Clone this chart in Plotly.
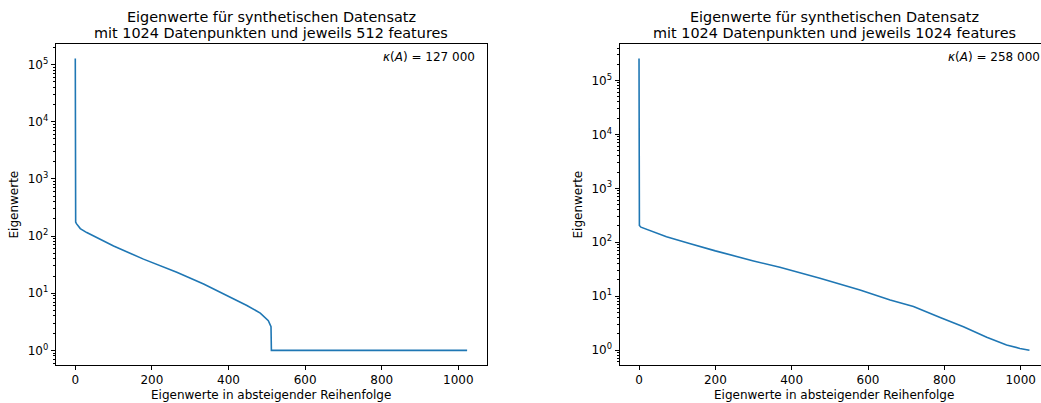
import plotly.graph_objects as go

# ---- data ----
left_idx = [0, 1, 3, 7, 13, 30, 60, 100, 178, 265, 335, 396, 448, 483, 504, 511, 512, 1023]
left_val = [127000, 175, 165, 150, 135, 115, 91, 67, 39.5, 23.2, 14.5, 9.1, 6.1, 4.5, 3.3, 2.6, 1.0, 1.0]

right_idx = [0, 1, 5, 20, 72, 130, 200, 300, 369, 474, 579, 658, 719, 789, 850, 911, 963, 998, 1010, 1023]
right_val = [255000, 205, 190, 173, 126, 96, 69, 45, 34.2, 21.4, 13.0, 8.5, 6.4, 4.0, 2.7, 1.72, 1.24, 1.07, 1.02, 0.99]

title_line1 = ["Eigenwerte für synthetischen Datensatz", "Eigenwerte für synthetischen Datensatz"]
title_line2 = ["mit 1024 Datenpunkten und jeweils 512 features",
               "mit 1024 Datenpunkten und jeweils 1024 features"]
kappa_texts = ["<i>κ</i>(<i>A</i>) = 127 000", "<i>κ</i>(<i>A</i>) = 258 000"]
x_label = "Eigenwerte in absteigender Reihenfolge"
y_label = "Eigenwerte"
x_ticks = [0, 200, 400, 600, 800, 1000]
y_decades = [0, 1, 2, 3, 4, 5]

W, H = 1041, 403
FONT = "DejaVu Sans"
LINE = "#1f77b4"
TICK_SIZE = 12
LABEL_SIZE = 12
TITLE_SIZE = 14.4

fig = go.Figure()
fig.add_trace(go.Scatter(x=left_idx, y=left_val, mode="lines",
                         line=dict(color=LINE, width=1.6), xaxis="x", yaxis="y", showlegend=False))
fig.add_trace(go.Scatter(x=right_idx, y=right_val, mode="lines",
                         line=dict(color=LINE, width=1.6),
                         xaxis="x2", yaxis="y2", showlegend=False))

ytickvals = [10 ** d for d in y_decades]
yticktext = [f"10<sup>{d}</sup>" for d in y_decades]
minor_vals = [m * 10 ** d for d in range(-1, 6) for m in range(2, 10)]

def xaxis_cfg(domain, rng, anchor):
    return dict(domain=domain, range=rng, anchor=anchor, tickvals=x_ticks,
                ticks="outside", ticklen=4, tickwidth=1, tickcolor="black",
                showline=True, linecolor="black", linewidth=1, mirror=True,
                showgrid=False, zeroline=False,
                tickfont=dict(family=FONT, size=TICK_SIZE, color="black"))

def yaxis_cfg(domain, rng, anchor, mirror):
    return dict(domain=domain, range=rng, anchor=anchor, type="log",
                tickmode="array", tickvals=ytickvals, ticktext=yticktext,
                ticks="outside", ticklen=4, tickwidth=1, tickcolor="black",
                minor=dict(tickmode="array", tickvals=minor_vals, ticks="outside",
                           ticklen=2, tickwidth=0.8, tickcolor="black", showgrid=False),
                showline=True, linecolor="black", linewidth=1, mirror=mirror,
                showgrid=False, zeroline=False,
                tickfont=dict(family=FONT, size=TICK_SIZE, color="black"))

ydom = [1 - 365 / H, 1 - 44 / H]
xd1 = [55.7 / W, 486.7 / W]
xd2 = [619.5 / W, 1.0]

fig.update_layout(
    width=W, height=H, margin=dict(l=0, r=0, t=0, b=0),
    paper_bgcolor="white", plot_bgcolor="white",
    xaxis=xaxis_cfg(xd1, [-51.15, 1074.15], "y"),
    yaxis=yaxis_cfg(ydom, [-0.255, 5.359], "x", True),
    xaxis2=xaxis_cfg(xd2, [-51.15, 1053.2], "y2"),
    yaxis2=yaxis_cfg(ydom, [-0.278, 5.677], "x2", False),
)

def txt(x, y, text, size, anchor="center", angle=0):
    return dict(x=x / W, y=1 - y / H, xref="paper", yref="paper", text=text,
                showarrow=False, xanchor=anchor, yanchor="middle", textangle=angle,
                font=dict(family=FONT, size=size, color="black"))

ann = []
centers = [271, 834]
for i, c in enumerate(centers):
    ann.append(txt(c, 16.5, title_line1[i], TITLE_SIZE))
    ann.append(txt(c, 32.5, title_line2[i], TITLE_SIZE))
    ann.append(txt(c, 395, x_label, LABEL_SIZE))
ann.append(txt(14, 204.5, y_label, LABEL_SIZE, angle=-90))
ann.append(txt(578, 204.5, y_label, LABEL_SIZE, angle=-90))
ann.append(txt(477, 57, kappa_texts[0], LABEL_SIZE, anchor="right"))
ann.append(txt(1042, 57, kappa_texts[1], LABEL_SIZE, anchor="right"))
fig.update_layout(annotations=ann)

fig.write_html("out.html", config={"displayModeBar": False},
               post_script="document.body.style.margin='0px';document.body.style.overflow='hidden';")
